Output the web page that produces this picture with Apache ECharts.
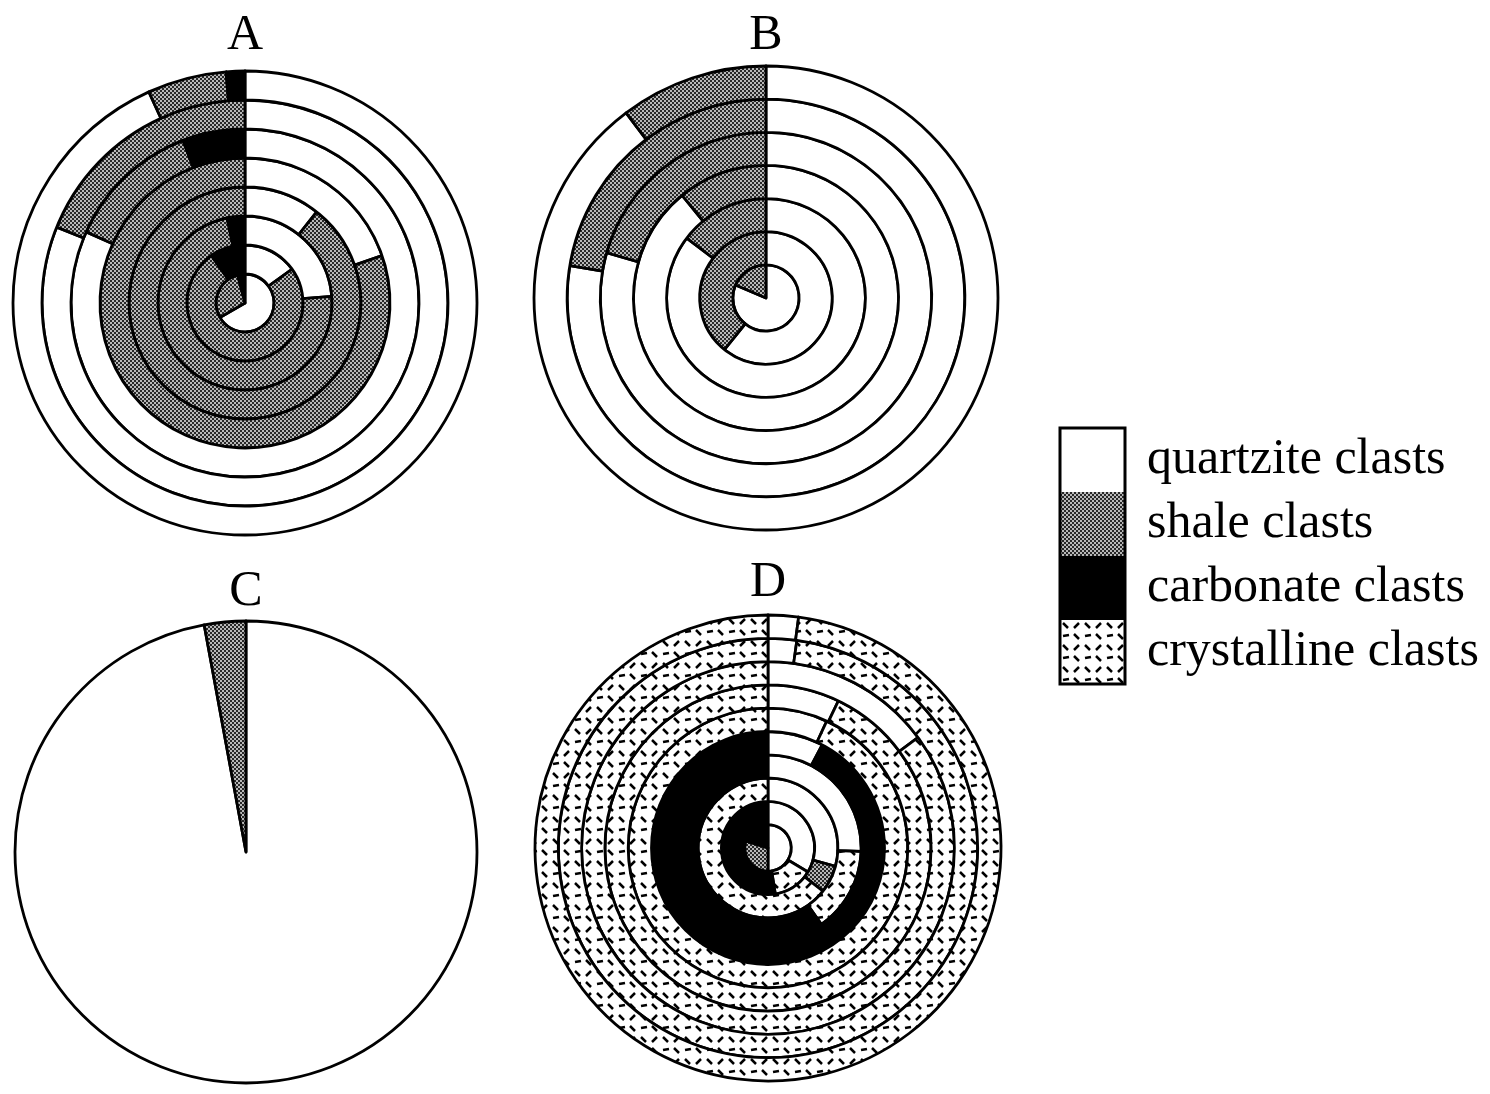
<!DOCTYPE html>
<html>
<head>
<meta charset="utf-8">
<script src="https://cdn.jsdelivr.net/npm/echarts@6/dist/echarts.min.js"></script>
<style>
html, body { margin: 0; padding: 0; background: #fff; }
#main { width: 1490px; height: 1094px; }
</style>
</head>
<body>
<div id="main"></div>
<script>
// order of the slices in every ring, clockwise from 12 o'clock
var clastNames = ['quartzite clasts', 'shale clasts', 'crystalline clasts', 'carbonate clasts'];
// order of the legend boxes
var legendNames = ['quartzite clasts', 'shale clasts', 'carbonate clasts', 'crystalline clasts'];
var panelNames = ['A', 'B', 'C', 'D'];

// percent of each clast type per ring, innermost ring first
var quartziteA   = [66.7, 15.1, 23.8, 10.6, 19.7, 81.7, 81.1, 93.2];
var shaleA       = [29.2, 75.1, 72.9, 89.4, 80.3, 12.5, 18.9, 5.5];
var crystallineA = [0, 0, 0, 0, 0, 0, 0, 0];
var carbonateA   = [4.1, 9.8, 3.3, 0, 0, 5.8, 0, 1.3];

var quartziteB   = [81.4, 60.8, 85.3, 89.1, 79.4, 77.6, 89.7];
var shaleB       = [18.6, 39.2, 14.7, 10.9, 20.6, 22.4, 10.3];
var crystallineB = [0, 0, 0, 0, 0, 0, 0];
var carbonateB   = [0, 0, 0, 0, 0, 0, 0];

var quartziteC   = [97.1];
var shaleC       = [2.9];
var crystallineC = [0];
var carbonateC   = [0];

var quartziteD   = [50, 33.6, 29.2, 25.6, 7.7, 6.9, 7.1, 14.9, 2.2, 2.1];
var shaleD       = [30, 0, 6.4, 0, 0, 0, 0, 0, 0, 0];
var crystallineD = [0, 13.9, 64.4, 14.7, 0, 93.1, 92.9, 85.1, 97.8, 97.9];
var carbonateD   = [20, 52.5, 0, 59.7, 92.3, 0, 0, 0, 0, 0];

var panelData = {
    A: [quartziteA, shaleA, crystallineA, carbonateA],
    B: [quartziteB, shaleB, crystallineB, carbonateB],
    C: [quartziteC, shaleC, crystallineC, carbonateC],
    D: [quartziteD, shaleD, crystallineD, carbonateD]
};

// layout of the four diagrams
var panelLayout = {
    A: { cx: 245, cy: 303, r: 232, titleTop: 11 },
    B: { cx: 766, cy: 298, r: 232, titleTop: 11 },
    C: { cx: 246, cy: 852, r: 231, titleTop: 567 },
    D: { cx: 768, cy: 848, r: 233, titleTop: 558 }
};

function shalePattern() {
    var c = document.createElement('canvas');
    c.width = 4; c.height = 4;
    var g = c.getContext('2d');
    g.fillStyle = '#282828';
    g.fillRect(0, 0, 4, 4);
    g.fillStyle = '#b8b8b8';
    g.fillRect(0, 0, 2, 2);
    g.fillRect(2, 2, 2, 2);
    return c;
}

function crystallinePattern() {
    var c = document.createElement('canvas');
    c.width = 22; c.height = 22;
    var g = c.getContext('2d');
    g.fillStyle = '#fff';
    g.fillRect(0, 0, 22, 22);
    g.strokeStyle = '#000';
    g.lineWidth = 2.5;
    function dash(x1, y1, x2, y2) {
        g.beginPath(); g.moveTo(x1, y1); g.lineTo(x2, y2); g.stroke();
    }
    dash(3, 3, 8, 8);
    dash(14, 8, 19, 3);
    dash(14, 14, 19, 19);
    dash(3, 16, 9, 15);
    return c;
}

var clastColors = {
    'quartzite clasts': '#ffffff',
    'shale clasts': { image: shalePattern(), repeat: 'repeat' },
    'crystalline clasts': { image: crystallinePattern(), repeat: 'repeat' },
    'carbonate clasts': '#000000'
};

var myChart = echarts.init(document.getElementById('main'), null, { renderer: 'canvas' });

var series = [];
panelNames.forEach(function (p) {
    var lay = panelLayout[p];
    var cols = panelData[p];
    var nRing = cols[0].length;
    var w = lay.r / nRing;
    for (var i = 0; i < nRing; i++) {
        var data = [];
        clastNames.forEach(function (name, k) {
            var v = cols[k][i];
            if (v > 0) {
                data.push({ name: name, value: v, itemStyle: { color: clastColors[name] } });
            }
        });
        series.push({
            type: 'pie',
            name: p + (i + 1),
            center: [lay.cx, lay.cy],
            radius: [i * w, (i + 1) * w],
            startAngle: 90,
            clockwise: true,
            silent: true,
            label: { show: false },
            labelLine: { show: false },
            itemStyle: { borderColor: '#000', borderWidth: 2.8 },
            data: data
        });
    }
});

var titles = panelNames.map(function (p) {
    return {
        text: p,
        left: panelLayout[p].cx,
        top: panelLayout[p].titleTop,
        textAlign: 'center',
        padding: 0,
        textStyle: { fontFamily: 'Liberation Serif', fontSize: 50, fontWeight: 'normal', color: '#000' }
    };
});

var option = {
    backgroundColor: '#fff',
    animation: false,
    title: titles,
    legend: {
        data: legendNames,
        orient: 'vertical',
        left: 1060,
        top: 428,
        padding: 0,
        itemWidth: 65,
        itemHeight: 64,
        itemGap: 0,
        icon: 'rect',
        selectedMode: false,
        itemStyle: { borderWidth: 0 },
        textStyle: { fontFamily: 'Liberation Serif', fontSize: 50, color: '#000', padding: [0, 0, 0, 17] }
    },
    graphic: [{
        type: 'rect',
        shape: { x: 1060, y: 428, width: 65, height: 256 },
        style: { fill: 'none', stroke: '#000', lineWidth: 3 },
        z: 100
    }],
    series: series
};

myChart.setOption(option);
</script>
</body>
</html>
